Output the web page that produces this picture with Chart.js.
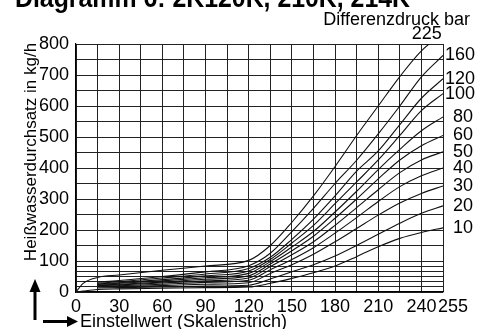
<!DOCTYPE html>
<html>
<head>
<meta charset="utf-8">
<script src="https://cdn.jsdelivr.net/npm/chart.js@4.4.1/dist/chart.umd.min.js"></script>
<style>
html, body { margin: 0; padding: 0; background: #fff; }
</style>
</head>
<body>
<canvas id="chart" width="490" height="329"></canvas>
<script>
// Einstellwert (Skalenstrich) positions where the curves were read
const settings = [0, 5, 15, 30, 60, 90, 120, 135, 150, 165, 180, 195, 210, 225, 240, 255];

// Heißwasserdurchsatz in kg/h, one array per Differenzdruck (bar)
const dp225 = [0, 28, 47, 55, 70, 84, 102, 150, 225, 310, 405, 505, 600, 695, 778, 835];
const dp160 = [null, null, 32, 37, 50, 65, 85, 125, 195, 270, 350, 425, 510, 600, 694, 763];
const dp120 = [null, null, 28, 33, 45, 58, 76, 112, 170, 235, 310, 390, 455, 540, 625, 688];
const dp100 = [null, null, 26, 30, 40, 52, 68, 105, 158, 215, 285, 355, 426, 505, 585, 640];
const dp80  = [null, null, 24, 28, 36, 46, 60, 98, 145, 195, 258, 325, 395, 460, 520, 565];
const dp60  = [null, null, 22, 25, 32, 41, 52, 90, 133, 180, 238, 300, 365, 426, 472, 505];
const dp50  = [null, null, 20, 23, 29, 36, 45, 82, 120, 162, 215, 272, 330, 385, 426, 452];
const dp40  = [null, null, 18, 20, 25, 31, 38, 72, 105, 143, 190, 240, 292, 340, 375, 400];
const dp30  = [null, null, 16, 18, 21, 25, 30, 60, 88, 122, 162, 205, 248, 287, 318, 342];
const dp20  = [null, null, 13, 14, 16, 19, 22, 42, 65, 88, 116, 150, 186, 222, 254, 278];
const dp10  = [0, 3, 8, 10, 12, 14, 16, 28, 44, 62, 84, 114, 146, 173, 192, 207];

const pressures = ['225', '160', '120', '100', '80', '60', '50', '40', '30', '20', '10'];
const flows = [dp225, dp160, dp120, dp100, dp80, dp60, dp50, dp40, dp30, dp20, dp10];

// horizontal grid lines (kg/h)
const yGrid = [0, 17, 33, 50, 67, 83, 100, 150, 200, 250, 300, 350, 400, 450, 500, 550, 600, 650, 700, 750, 800];

const FONT = 'Liberation Sans, Arial, Helvetica, sans-serif';

const datasets = pressures.map((p, i) => ({
    label: p + ' bar',
    data: settings.map((s, j) => ({ x: s, y: flows[i][j] })),
    borderColor: '#111',
    borderWidth: 1.1,
    pointRadius: 0,
    cubicInterpolationMode: 'monotone',
    fill: false
}));

const textPlugin = {
    id: 'texts',
    afterDraw(chart) {
        const ctx = chart.ctx;
        const xs = chart.scales.x, ys = chart.scales.y;
        const area = chart.chartArea;
        ctx.save();
        ctx.fillStyle = '#000';

        // title, cut off at the top edge
        ctx.font = 'bold 27px ' + FONT;
        ctx.textAlign = 'left';
        ctx.textBaseline = 'alphabetic';
        ctx.fillText('Diagramm 6: 2K120K, 210K, 214K', 15, 7, 395);

        ctx.font = '18px ' + FONT;
        ctx.textAlign = 'right';
        ctx.fillText('Differenzdruck bar', 470, 25);

        // curve labels at the right end
        ctx.textBaseline = 'middle';
        pressures.forEach((p, i) => {
            const vals = flows[i];
            const last = vals[vals.length - 1];
            if (last > ys.max) {
                // where the curve leaves the top of the plot
                const k = vals.findIndex(v => v !== null && v > ys.max);
                const x0 = settings[k - 1], x1 = settings[k];
                const xc = x0 + (x1 - x0) * (ys.max - vals[k - 1]) / (vals[k] - vals[k - 1]);
                ctx.textAlign = 'center';
                ctx.fillText(p, xs.getPixelForValue(xc) - 3, area.top - 10);
            } else {
                ctx.textAlign = 'left';
                const dx = Number(p) >= 100 ? 2 : 10;
                ctx.fillText(p, area.right + dx, ys.getPixelForValue(last));
            }
        });

        // y axis title
        ctx.save();
        ctx.font = '17px ' + FONT;
        ctx.translate(31, 152);
        ctx.rotate(-Math.PI / 2);
        ctx.textAlign = 'center';
        ctx.fillText('Heißwasserdurchsatz in kg/h', 0, 0, 224);
        ctx.restore();

        // x axis title
        ctx.textAlign = 'left';
        ctx.textBaseline = 'alphabetic';
        ctx.fillText('Einstellwert (Skalenstrich)', 80, 327);

        // arrows
        ctx.fillRect(33.5, 290, 3, 30);
        ctx.beginPath();
        ctx.moveTo(35, 279);
        ctx.lineTo(40.5, 292);
        ctx.lineTo(29.5, 292);
        ctx.closePath();
        ctx.fill();

        ctx.fillRect(43, 320, 27, 3);
        ctx.beginPath();
        ctx.moveTo(78, 321.5);
        ctx.lineTo(67, 316);
        ctx.lineTo(67, 327);
        ctx.closePath();
        ctx.fill();

        ctx.restore();
    }
};

new Chart(document.getElementById('chart'), {
    type: 'line',
    data: { datasets: datasets },
    options: {
        responsive: false,
        animation: false,
        layout: { padding: { left: 0, right: 47, top: 44, bottom: 0 } },
        plugins: {
            legend: { display: false },
            tooltip: { enabled: false }
        },
        scales: {
            x: {
                type: 'linear',
                min: 0,
                max: 255,
                afterFit: s => { s.height = 37; },
                ticks: {
                    stepSize: 15,
                    autoSkip: false,
                    maxRotation: 0,
                    padding: 4,
                    color: '#000',
                    font: { family: FONT, size: 18 },
                    callback: v => v === 255 ? '    255' : (v % 30 === 0 ? String(v) : '')
                },
                grid: { color: '#222', lineWidth: 1, drawTicks: false },
                border: { color: '#000', width: 1.2 }
            },
            y: {
                min: 0,
                max: 800,
                afterFit: s => { s.width = 76; },
                afterBuildTicks: s => { s.ticks = yGrid.map(v => ({ value: v })); },
                ticks: {
                    autoSkip: false,
                    padding: 7,
                    color: '#000',
                    font: { family: FONT, size: 18 },
                    callback: v => v % 100 === 0 ? String(v) : ''
                },
                grid: { color: '#222', lineWidth: 1, drawTicks: false },
                border: { color: '#000', width: 1.2 }
            }
        }
    },
    plugins: [textPlugin]
});
</script>
</body>
</html>
